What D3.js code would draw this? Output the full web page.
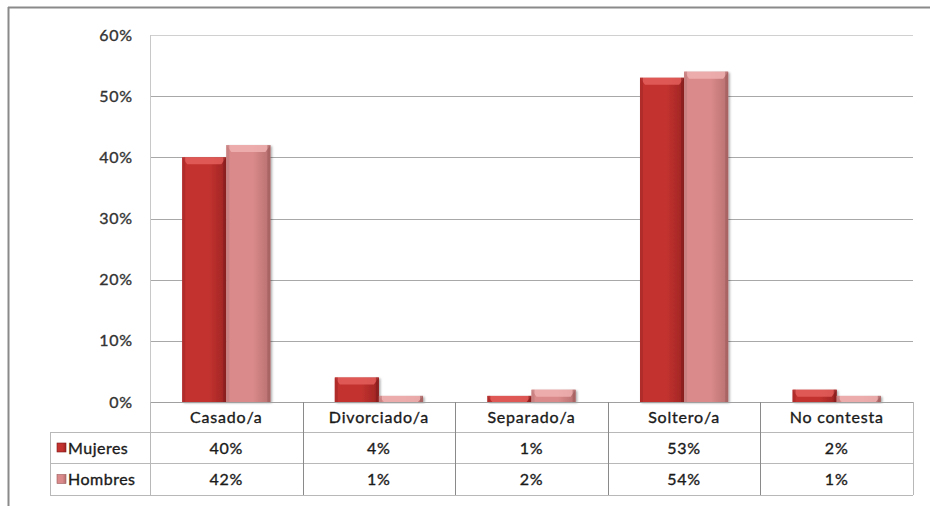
<!DOCTYPE html>
<html><head><meta charset="utf-8">
<script src="https://cdn.jsdelivr.net/npm/d3@7"></script>
<style>html,body{margin:0;padding:0;background:#fff;}svg{display:block;font-family:Lato,"Open Sans",sans-serif;}</style>
</head><body>
<script>
const categories = ["Casado/a","Divorciado/a","Separado/a","Soltero/a","No contesta"];
const seriesNames = ["Mujeres","Hombres"];
const mujeres = [40,4,1,53,2];
const hombres = [42,1,2,54,1];
const yTicks = [0,10,20,30,40,50,60];

(function(){
const W = 930, H = 506;
const svg = d3.select("body").append("svg").attr("width",W).attr("height",H);
const defs = svg.append("defs");
const colors = {Mujeres:["#7e1a1a","#c3322f","#9e2524"], Hombres:["#9c5a5a","#da8a8a","#b87070"]};
seriesNames.forEach(s=>{
  const g = defs.append("linearGradient").attr("id","g"+s).attr("x1","0").attr("x2","1").attr("y1","0").attr("y2","0");
  g.append("stop").attr("offset","0").attr("stop-color",colors[s][1]);
  g.append("stop").attr("offset","0.6").attr("stop-color",colors[s][1]);
  g.append("stop").attr("offset","1").attr("stop-color",colors[s][2]);
});
const sh = defs.append("filter").attr("id","sh").attr("x","-20%").attr("y","-20%").attr("width","150%").attr("height","150%");
sh.append("feDropShadow").attr("dx",1.5).attr("dy",1).attr("stdDeviation",1.2).attr("flood-color","#000").attr("flood-opacity",0.35);

// outer frame
svg.append("line").attr("x1",8).attr("x2",W).attr("y1",7.5).attr("y2",7.5).attr("stroke","#8a8a8a").attr("stroke-width",2);
svg.append("line").attr("x1",8.5).attr("x2",8.5).attr("y1",7).attr("y2",H).attr("stroke","#8a8a8a").attr("stroke-width",2);

const pLeft = 150, pRight = 913, pTop = 35, pBottom = 402;
const x = d3.scaleBand().domain(categories).range([pLeft,pRight]).paddingInner(0).paddingOuter(0);
const x1 = d3.scaleBand().domain(seriesNames).range([0,x.bandwidth()]).paddingInner(0).paddingOuter(0.73);
const y = d3.scaleLinear().domain([0,60]).range([pBottom,pTop]);

// gridlines
svg.append("g").selectAll("line").data(yTicks.filter(d=>d>0)).join("line")
  .attr("x1",pLeft).attr("x2",pRight).attr("y1",d=>Math.round(y(d))+0.5).attr("y2",d=>Math.round(y(d))+0.5)
  .attr("stroke",d=>d===60?"#d0d0d0":"#a8a8a8").attr("stroke-width",1.2);
svg.append("line").attr("x1",pLeft+0.5).attr("x2",pLeft+0.5).attr("y1",pTop).attr("y2",pBottom).attr("stroke","#c8c8c8");

const fontAttrs = sel => sel.attr("font-size",16).attr("fill","#1a1a1a").attr("stroke","#1a1a1a").attr("stroke-width",0.35)
  .attr("letter-spacing","0.8px").attr("font-family","Lato,sans-serif");

// y axis
const yAxis = d3.axisLeft(y).tickValues(yTicks).tickFormat(d=>d+"%").tickSize(0).tickPadding(17);
const ya = svg.append("g").attr("transform",`translate(${pLeft},0)`).call(yAxis);
ya.select(".domain").remove();
ya.selectAll("text").call(fontAttrs).attr("fill","#333").attr("stroke","#333");

// bars
const data = [mujeres,hombres];
seriesNames.forEach((s,si)=>{
  const g = svg.append("g");
  categories.forEach((c,ci)=>{
    const v = data[si][ci];
    const bx = x(c)+x1(s), bw = x1.bandwidth(), by = y(v), bh = y(0)-y(v);
    g.append("rect").attr("x",bx).attr("y",by).attr("width",bw).attr("height",bh)
      .attr("fill",`url(#g${s})`).attr("filter","url(#sh)");
    const bev = Math.min(7,bh);
    g.append("path").attr("d",`M${bx},${by}L${bx+bw},${by}L${bx+bw-5},${by+bev}L${bx+5},${by+bev}Z`)
      .attr("fill",si===0?"#e45f5c":"#f0b2b2").attr("opacity",0.85);
    g.append("rect").attr("x",bx).attr("y",by).attr("width",3).attr("height",bh).attr("fill",si===0?"#a82a29":"#c27e7e").attr("opacity",0.7);
    g.append("rect").attr("x",bx+bw-3).attr("y",by).attr("width",3).attr("height",bh).attr("fill",colors[s][0]).attr("opacity",0.6);
  });
});

// data table
const rowH = [402,432,463,495];
const tLeft = 50;
const tg = svg.append("g");
const gc = "#b8b8b8";
tg.append("line").attr("x1",pLeft).attr("x2",pRight).attr("y1",pBottom+0.5).attr("y2",pBottom+0.5).attr("stroke","#a0a0a0");
[432,463,495].forEach(yy=>tg.append("line").attr("x1",tLeft).attr("x2",pRight).attr("y1",yy+0.5).attr("y2",yy+0.5).attr("stroke",gc));
tg.append("line").attr("x1",tLeft+0.5).attr("x2",tLeft+0.5).attr("y1",432).attr("y2",495).attr("stroke",gc);
categories.forEach(c=>tg.append("line").attr("x1",Math.round(x(c))+0.5).attr("x2",Math.round(x(c))+0.5).attr("y1",pBottom).attr("y2",495).attr("stroke",c===categories[0]?gc:"#8a8a8a"));
tg.append("line").attr("x1",pRight+0.5).attr("x2",pRight+0.5).attr("y1",pBottom).attr("y2",495).attr("stroke",gc);

tg.selectAll("text.cat").data(categories).join("text").attr("class","cat")
  .attr("x",d=>x(d)+x.bandwidth()/2).attr("y",(rowH[0]+rowH[1])/2+6)
  .attr("text-anchor","middle").call(fontAttrs).text(d=>d);
seriesNames.forEach((s,si)=>{
  const cy = (rowH[si+1]+rowH[si+2])/2;
  tg.append("rect").attr("x",57).attr("y",cy-4.5).attr("width",9).attr("height",9).attr("fill",`url(#g${s})`).attr("stroke",colors[s][0]).attr("stroke-width",0.6);
  tg.append("text").attr("x",68).attr("y",cy+6).call(fontAttrs).attr("letter-spacing","0.5px").text(s);
  tg.selectAll("text.v"+si).data(data[si]).join("text").attr("class","v"+si)
    .attr("x",(d,i)=>x(categories[i])+x.bandwidth()/2).attr("y",cy+6)
    .attr("text-anchor","middle").call(fontAttrs).text(d=>d+"%");
});
})();
</script>
</body></html>
